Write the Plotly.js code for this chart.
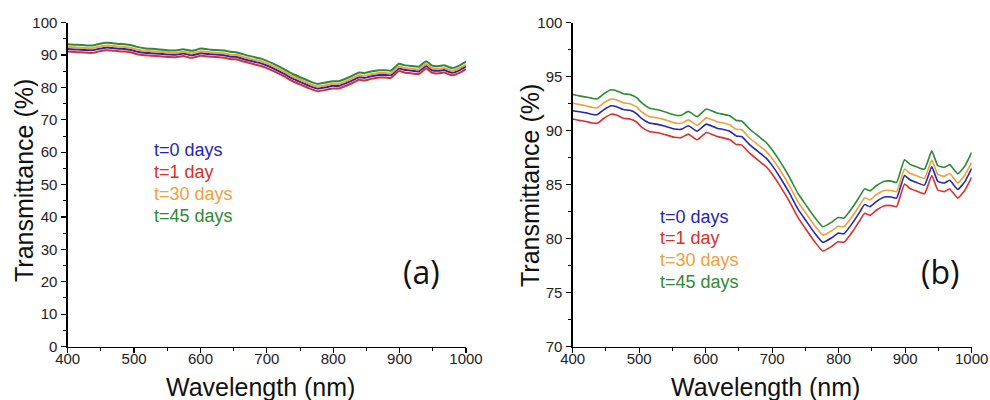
<!DOCTYPE html>
<html>
<head>
<meta charset="utf-8">
<script src="https://cdn.plot.ly/plotly-3.0.1.min.js"></script>
<style>html,body{margin:0;padding:0;background:#fff;}#chart{width:990px;height:400px;}</style>
</head>
<body>
<div id="chart"></div>
<script>
// Wavelength (nm)
const wavelength = [400,410,420,430,437,447,458,466,476,486,496,503,515,526,538,553,563,574,587,601,616,636,646,654,666,681,691,699,711,726,739,752,764,776,789,799,808,822,832,839,847,857,869,879,887,899,907,917,929,940,949,959,967,979,990,1000];
// Transmittance (%) per ageing time
const t0days = [91.85,91.75,91.65,91.50,91.48,91.95,92.30,92.22,91.95,91.88,91.58,91.15,90.70,90.60,90.42,90.15,90.12,90.45,89.95,90.60,90.25,89.95,89.50,89.45,88.70,87.95,87.45,86.85,85.75,84.20,82.70,81.55,80.50,79.65,80.05,80.50,80.45,81.55,82.50,83.15,82.95,83.45,83.85,83.85,83.75,85.85,85.45,85.20,84.95,86.65,85.30,85.15,85.40,84.55,85.30,86.50];
const t1day = [91.08,90.95,90.85,90.70,90.68,91.15,91.52,91.45,91.15,91.08,90.80,90.35,89.92,89.82,89.65,89.38,89.35,89.68,89.15,89.82,89.48,89.17,88.72,88.68,87.92,87.15,86.65,86.05,84.95,83.42,81.92,80.75,79.70,78.85,79.25,79.70,79.65,80.75,81.70,82.35,82.15,82.65,83.05,83.05,82.95,85.05,84.65,84.40,84.15,85.85,84.50,84.35,84.60,83.75,84.50,85.70];
const t30days = [92.55,92.42,92.30,92.15,92.12,92.58,92.92,92.85,92.58,92.50,92.20,91.78,91.30,91.20,91.02,90.72,90.68,91.00,90.50,91.18,90.85,90.55,90.12,90.08,89.32,88.58,88.08,87.50,86.42,84.88,83.38,82.22,81.18,80.32,80.70,81.15,81.10,82.20,83.12,83.78,83.58,84.08,84.45,84.45,84.35,86.45,86.05,85.82,85.58,87.28,85.92,85.78,86.02,85.15,85.92,87.05];
const t45days = [93.35,93.22,93.12,92.98,92.95,93.42,93.78,93.70,93.42,93.35,93.05,92.62,92.10,91.95,91.75,91.45,91.42,91.78,91.30,92.00,91.65,91.38,90.95,90.90,90.15,89.40,88.90,88.30,87.22,85.68,84.15,83.00,81.95,81.10,81.50,81.95,81.90,83.00,83.95,84.62,84.42,84.92,85.32,85.32,85.20,87.30,86.90,86.65,86.42,88.12,86.75,86.60,86.85,86.00,86.75,87.98];
const seriesNames = ["t=0 days","t=1 day","t=30 days","t=45 days"];
const seriesData = [t0days, t1day, t30days, t45days];
const seriesColors = ["#2626b4","#d8302c","#f0a03c","#2e8a34"];
const panelLabels = ["(a)","(b)"];

const W = 990, H = 400;
const px = v => v / W;
const py = v => 1 - v / H;

const traces = [];
[["x","y",2.0],["x2","y2",1.6]].forEach(([xa, ya, lw]) => {
  seriesData.forEach((d, i) => {
    traces.push({x: wavelength, y: d, xaxis: xa, yaxis: ya, type: "scatter", mode: "lines",
      name: seriesNames[i], showlegend: false, line: {color: seriesColors[i], width: lw, shape: "spline", smoothing: 0.4}});
  });
});

const tickFont = {family: "Liberation Sans, Arial, sans-serif", size: 15, color: "#222"};
function xax(domain, anchor) {
  return {domain: domain, anchor: anchor, range: [400, 1000], tick0: 400, dtick: 100,
    showline: true, linecolor: "#000", linewidth: 1.3, ticks: "outside", ticklen: 5, tickwidth: 1.2, tickcolor: "#000",
    minor: {ticks: "outside", ticklen: 3, tickwidth: 1, tickcolor: "#000", dtick: 50, showgrid: false},
    showgrid: false, zeroline: false, tickfont: tickFont, ticklabelstandoff: -7};
}
function yax(domain, anchor, range, dtick) {
  return {domain: domain, anchor: anchor, range: range, tick0: range[0], dtick: dtick,
    showline: true, linecolor: "#000", linewidth: 1.3, ticks: "outside", ticklen: 5, tickwidth: 1.2, tickcolor: "#000",
    minor: {ticks: "outside", ticklen: 3, tickwidth: 1, tickcolor: "#000", dtick: dtick / 2, showgrid: false},
    showgrid: false, zeroline: false, tickfont: tickFont, ticklabelstandoff: 1};
}

const yDom = [py(346.5), py(22.7)];
const layout = {
  width: W, height: H,
  margin: {l: 0, r: 0, t: 0, b: 0},
  paper_bgcolor: "#fff", plot_bgcolor: "#fff",
  showlegend: false,
  xaxis: xax([px(67.7), px(466)], "y"),
  yaxis: yax(yDom, "x", [0, 100], 10),
  xaxis2: xax([px(572.7), px(971.7)], "y2"),
  yaxis2: yax(yDom, "x2", [70, 100], 5),
  annotations: []
};

const titleFont = {family: "Liberation Sans, Arial, sans-serif", size: 25, color: "#111"};
const ann = layout.annotations;
[260, 765].forEach(xc => {
  ann.push({text: "Wavelength (nm)", xref: "paper", yref: "paper", x: px(xc), y: py(387), xanchor: "center", yanchor: "middle", showarrow: false, font: titleFont});
});
[[24, 181], [530, 186]].forEach(([xc, yc]) => {
  ann.push({text: "Transmittance (%)", xref: "paper", yref: "paper", x: px(xc), y: py(yc), xanchor: "center", yanchor: "middle", textangle: -90, showarrow: false, font: titleFont});
});
[[152, [150, 172, 194, 216]], [658, [217, 238, 260, 282]]].forEach(([xl, ys]) => {
  seriesNames.forEach((n, i) => {
    ann.push({text: n, xref: "paper", yref: "paper", x: px(xl), y: py(ys[i]), xanchor: "left", yanchor: "middle", showarrow: false,
      font: {family: "Liberation Sans, Arial, sans-serif", size: 18, color: seriesColors[i]}});
  });
});
[[421, 271], [940, 271]].forEach(([xc, yc], i) => {
  ann.push({text: panelLabels[i], xref: "paper", yref: "paper", x: px(xc), y: py(yc), xanchor: "center", yanchor: "middle", showarrow: false,
    font: {family: "Open Sans, Noto Sans, sans-serif", size: 32, color: "#111"}});
});

Plotly.newPlot("chart", traces, layout, {staticPlot: true, displayModeBar: false});
</script>
</body>
</html>
